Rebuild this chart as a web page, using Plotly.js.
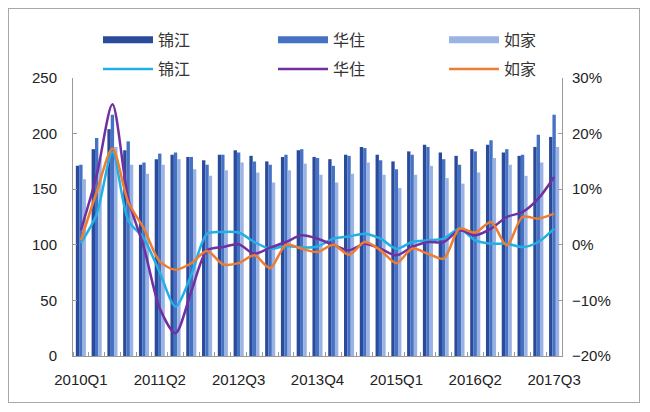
<!DOCTYPE html>
<html>
<head>
<meta charset="utf-8">
<script src="https://cdn.plot.ly/plotly-3.0.1.min.js"></script>
<style>
body { margin: 0; background: #fff; }
#wrap { position: relative; width: 650px; height: 412px; }
#frame { position: absolute; left: 8px; top: 8px; width: 630px; height: 393px; border: 1.5px solid #a8a8a8; pointer-events: none; }
</style>
</head>
<body>
<div id="wrap"><div id="grafico"></div><div id="frame"></div></div>
<script>
const quarters = ['2010Q1','2010Q2','2010Q3','2010Q4','2011Q1','2011Q2','2011Q3','2011Q4',
  '2012Q1','2012Q2','2012Q3','2012Q4','2013Q1','2013Q2','2013Q3','2013Q4',
  '2014Q1','2014Q2','2014Q3','2014Q4','2015Q1','2015Q2','2015Q3','2015Q4',
  '2016Q1','2016Q2','2016Q3','2016Q4','2017Q1','2017Q2','2017Q3'];

// bars, left axis
const jinjiang_bar = [171,186,204,185,172,177,181,179,176,181,185,180,175,179,185,179,177,181,188,181,175,184,190,183,180,186,190,183,180,188,197];
const huazhu_bar   = [172,196,217,193,174,182,183,179,172,181,183,175,172,181,186,178,171,180,187,176,168,181,188,177,172,184,194,186,181,199,217];
const rujia_bar    = [159,178,188,172,164,172,177,168,162,167,174,165,156,167,173,163,156,164,174,163,151,163,171,160,155,165,178,172,162,174,188];

// lines, right axis (%)
const jinjiang_line = [0.3,5.5,16.7,4.4,1.1,-5.0,-11.1,-5.4,2.0,2.3,2.2,0.5,-0.7,-0.2,-0.5,-0.3,1.1,1.5,2.0,1.1,-0.7,0.5,0.8,1.1,2.9,0.8,0.2,0.2,-0.4,0.5,2.9];
const huazhu_line   = [2.6,12.5,25.3,8.3,-0.5,-11.4,-15.9,-8.4,-1.0,-0.4,0.1,-1.6,-0.5,0.5,1.7,1.1,0.0,-1.0,0.2,-0.7,-1.9,-0.4,0.5,0.5,2.6,1.7,2.9,5.0,5.9,8.3,12.2];
const rujia_line    = [0.8,9.5,17.3,7.7,2.9,-3.0,-4.5,-3.3,-1.1,-3.5,-3.3,-1.9,-4.2,0.0,-0.7,-1.3,0.0,-1.8,0.5,-1.0,-3.3,-0.7,-1.6,-2.5,2.9,2.2,4.1,-0.1,5.0,4.7,5.6];

const names = ['锦江', '华住', '如家'];
const barColors = ['#2a4a9a', '#4572c4', '#9ab3e3'];
const lineColors = ['#21b0e6', '#7030a0', '#ed7d31'];

const xs = quarters.map((q, i) => i);
const labelIdx = xs.filter(i => i % 5 === 0);

var data = [];
[jinjiang_bar, huazhu_bar, rujia_bar].forEach(function (ys, k) {
  data.push({ x: xs, y: ys, type: 'bar', name: names[k], marker: { color: barColors[k] }, showlegend: false, hoverinfo: 'x+y' });
});
// legend swatches for the bars (wide blocks like the original), one legend per slot
barColors.forEach(function (c, k) {
  data.push({ x: [null], y: [null], type: 'scatter', mode: 'lines', name: names[k],
    legend: k === 0 ? 'legend' : 'legend' + (k + 1), line: { color: c, width: 7 } });
});
[jinjiang_line, huazhu_line, rujia_line].forEach(function (ys, k) {
  data.push({ x: xs, y: ys, type: 'scatter', mode: 'lines', name: names[k], yaxis: 'y2', legend: 'legend' + (k + 4),
    line: { color: lineColors[k], width: 2.5, shape: 'spline', smoothing: 0.8 } });
});

var tickFont = { family: 'Liberation Sans, Arial, sans-serif', size: 15, color: '#222' };
var legFont = { family: 'Noto Sans CJK SC, sans-serif', size: 16, color: '#333' };

var legX = [0.0511, 0.409, 0.7587];
var legY = [1.137, 1.032];
function leg(col, row) {
  return { x: legX[col], xanchor: 'left', y: legY[row], yanchor: 'middle', orientation: 'h',
    itemwidth: 50, font: legFont, bgcolor: 'rgba(0,0,0,0)' };
}

var layout = {
  width: 650, height: 412,
  margin: { l: 73, r: 88, t: 78, b: 56 },
  paper_bgcolor: '#fff', plot_bgcolor: '#fff',
  barmode: 'group', bargap: 0.36, bargroupgap: 0,
  xaxis: {
    range: [-0.5, 30.5], tickmode: 'array', tickvals: labelIdx, ticktext: labelIdx.map(i => quarters[i]),
    ticks: '', showline: true, linecolor: '#999', linewidth: 1, showgrid: false, zeroline: false,
    tickfont: tickFont, ticklabelstandoff: 10,
    minor: { tickmode: 'linear', tick0: 0.5, dtick: 1, ticks: 'inside', ticklen: 4, tickcolor: '#999', showgrid: false }
  },
  yaxis: {
    range: [0, 250], dtick: 50, ticks: 'inside', ticklen: 4, tickcolor: '#999',
    showline: true, linecolor: '#999', showgrid: false, zeroline: false, tickfont: tickFont, ticklabelstandoff: 12
  },
  yaxis2: {
    overlaying: 'y', side: 'right', range: [-20, 30], dtick: 10, ticksuffix: '%',
    ticks: 'inside', ticklen: 4, tickcolor: '#999',
    showline: true, linecolor: '#999', showgrid: false, zeroline: false, tickfont: tickFont, ticklabelstandoff: 6
  },
  legend: leg(0, 0), legend2: leg(1, 0), legend3: leg(2, 0),
  legend4: leg(0, 1), legend5: leg(1, 1), legend6: leg(2, 1),
  showlegend: true
};

Plotly.newPlot(document.getElementById('grafico'), data, layout, { displayModeBar: false, responsive: false });
</script>
</body>
</html>
